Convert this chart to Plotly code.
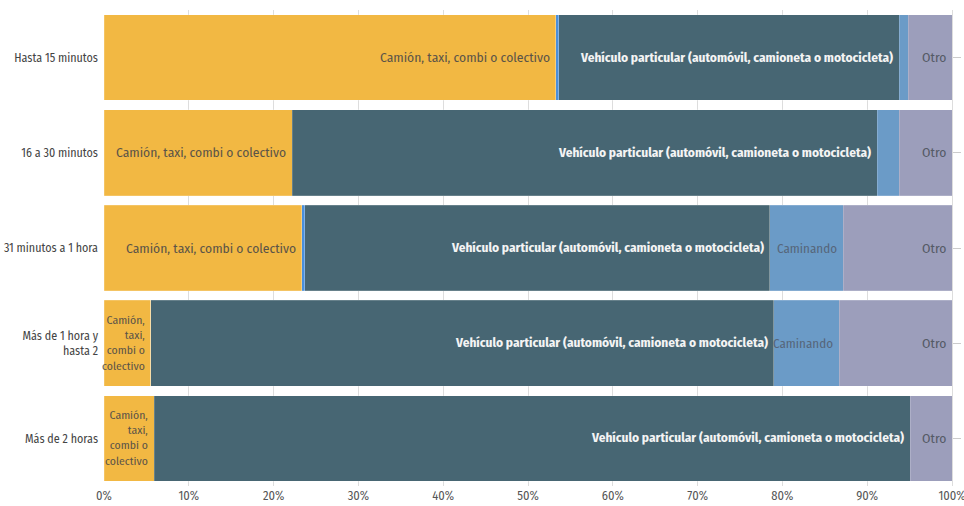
import plotly.graph_objects as go

categories = ["Hasta 15 minutos", "16 a 30 minutos", "31 minutos a 1 hora",
              "Más de 1 hora y<br>hasta 2", "Más de 2 horas"]

series_names = ["Camión, taxi, combi o colectivo", "Bicicleta",
                "Vehículo particular (automóvil, camioneta o motocicleta)",
                "Caminando", "Otro"]

camion = [53.3, 22.2, 23.3, 5.5, 5.9]
bicicleta = [0.3, 0.0, 0.4, 0.0, 0.0]
vehiculo = [40.2, 69.0, 54.8, 73.45, 89.15]
caminando = [1.05, 2.55, 8.65, 7.75, 0.0]
otro = [5.15, 6.25, 12.85, 13.3, 4.95]

camion_text = ["Camión, taxi, combi o colectivo", "Camión, taxi, combi o colectivo",
               "Camión, taxi, combi o colectivo",
               "Camión,<br>taxi,<br>combi o<br>colectivo",
               "Camión,<br>taxi,<br>combi o<br>colectivo"]
bicicleta_text = ["", "", "", "", ""]
vehiculo_text = ["Vehículo particular (automóvil, camioneta o motocicleta)"] * 5
caminando_text = ["", "", "Caminando", "Caminando", ""]
otro_text = ["Otro"] * 5

x_ticks = [0, 10, 20, 30, 40, 50, 60, 70, 80, 90, 100]
x_tick_labels = ["0%", "10%", "20%", "30%", "40%", "50%", "60%", "70%", "80%", "90%", "100%"]

colors = ["#F2B843", "#4A8FDB", "#476673", "#6B9BC7", "#9C9EBB"]
text_colors = ["#5b5448", "#444", "#f4f4f4", "#56667a", "#555a66"]
text_weights = ["normal", "normal", "bold", "normal", "normal"]
text_sizes = [13.5, 13, 13.3, 13, 13.5]

values = [camion, bicicleta, vehiculo, caminando, otro]
texts = [camion_text, bicicleta_text, vehiculo_text, caminando_text, otro_text]

FONT = "Fira Sans Condensed, Liberation Sans Narrow, Roboto Condensed, Arial Narrow, Roboto, sans-serif"

fig = go.Figure()
for name, vals, col in zip(series_names, values, colors):
    fig.add_trace(go.Bar(
        y=categories, x=vals, name=name, orientation="h",
        marker=dict(color=col, line=dict(width=0.5, color="rgba(255,255,255,0.35)")),
        hoverinfo="x+name",
    ))

# labels placed at the right end of each segment (computed from cumulative data)
annotations = []
cum = [0.0] * len(categories)
for vals, txts, tc, tw, ts in zip(values, texts, text_colors, text_weights, text_sizes):
    for i, (v, t) in enumerate(zip(vals, txts)):
        cum[i] += v
        if t:
            annotations.append(dict(
                x=min(round(cum[i], 6), 100), y=categories[i], xref="x", yref="y",
                text=t, showarrow=False, xanchor="right", yanchor="middle",
                xshift=-4, align="right",
                font=dict(family=FONT, size=ts if "<br>" not in t else 11.7,
                          color=tc, weight=tw),
            ))

# invisible overlay axis to draw the small ticks on the right side
fig.add_trace(go.Scatter(x=[None], y=[None], yaxis="y2", showlegend=False, hoverinfo="skip"))

fig.update_layout(
    width=964, height=506,
    barmode="stack", bargap=0.1,
    showlegend=False,
    plot_bgcolor="white", paper_bgcolor="white",
    margin=dict(l=104, r=12, t=10, b=20, autoexpand=False),
    font=dict(family=FONT, size=12, color="#555"),
    xaxis=dict(range=[0, 100], tickvals=x_ticks, ticktext=x_tick_labels,
               showgrid=True, gridcolor="#dddddd", gridwidth=1, zeroline=False,
               tickfont=dict(size=12.5, color="#555"), ticks="", fixedrange=True,
               automargin=False, ticklabeloverflow="allow"),
    yaxis=dict(autorange="reversed", showgrid=False, ticks="", automargin=False,
               tickfont=dict(size=12, color="#444"), ticklabelstandoff=5),
    yaxis2=dict(overlaying="y", side="right", range=[len(categories) - 0.5, -0.5],
                tickvals=list(range(len(categories))), showticklabels=False,
                ticks="outside", ticklen=8, tickcolor="#cccccc", showgrid=False,
                zeroline=False, showline=True, linecolor="#dddddd", linewidth=1,
                automargin=False),
    annotations=annotations,
)

fig.write_html("out.html", config={"displayModeBar": False},
               post_script="document.body.style.margin='0';document.body.style.overflow='hidden';")
